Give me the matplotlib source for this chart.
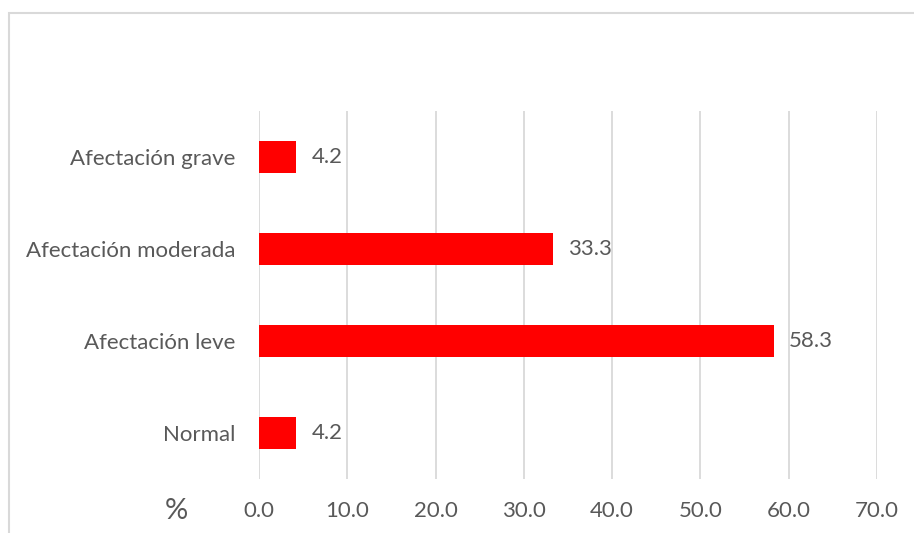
import matplotlib.pyplot as plt
from matplotlib.patches import Rectangle

categories = ["Normal", "Afectación leve", "Afectación moderada", "Afectación grave"]
values = [4.2, 58.3, 33.3, 4.2]
x_ticks = [0, 10, 20, 30, 40, 50, 60, 70]

TEXT = '#595959'
GRID = '#d9d9d9'
plt.rcParams['font.family'] = ['Lato', 'DejaVu Sans']

fig = plt.figure(figsize=(9.14, 5.33), dpi=100)
ax = fig.add_axes([0.2834, 0.1013, 0.6761, 0.6904])

y = list(range(len(categories)))
ax.barh(y, values, height=0.35, color='#ff0000', zorder=3)
for yi, v in zip(y, values):
    ax.annotate("%.1f" % v, (v, yi), xytext=(11, 0), textcoords='offset points',
                va='center', ha='left', fontsize=16, color=TEXT)

ax.set_xlim(0, 70)
ax.set_ylim(-0.5, 3.5)
ax.set_xticks(x_ticks)
ax.set_xticklabels(["%.1f" % t for t in x_ticks])
ax.set_yticks(y)
ax.set_yticklabels(categories)
ax.tick_params(axis='both', length=0, labelsize=16, labelcolor=TEXT)
ax.tick_params(axis='y', pad=17)
ax.tick_params(axis='x', pad=16)
ax.grid(axis='x', color=GRID, linewidth=1.3, zorder=0)
for s in ax.spines.values():
    s.set_visible(False)

fig.text(176 / 914, 1 - 511 / 533, "%", ha='center', va='center',
         fontsize=21, color=TEXT)

# chart area outline (runs off the right and bottom edges)
fig.patches.append(Rectangle((9 / 914, -0.05), 1.0, 1 - 13 / 533 + 0.05,
                             transform=fig.transFigure, fill=False,
                             edgecolor=GRID, linewidth=1.5))

fig.savefig("out.png", dpi=100)
